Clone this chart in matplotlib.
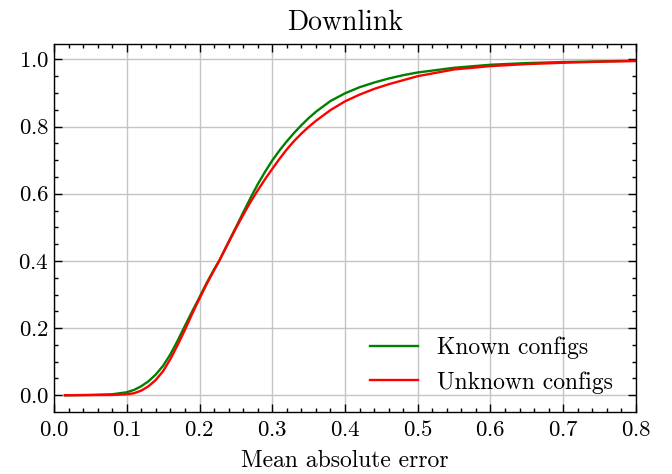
"""CDF of mean absolute error, downlink."""
import matplotlib
matplotlib.use('Agg')
import matplotlib.pyplot as plt
import numpy as np
from matplotlib.ticker import AutoMinorLocator, MultipleLocator

# CDF
known_x = [0.015, 0.05, 0.08, 0.10, 0.11, 0.12, 0.13, 0.14, 0.15, 0.16,
           0.17, 0.18, 0.19, 0.20, 0.21, 0.22, 0.227, 0.24, 0.25, 0.26,
           0.27, 0.28, 0.29, 0.30, 0.31, 0.32, 0.33, 0.34, 0.35, 0.36,
           0.38, 0.40, 0.42, 0.44, 0.46, 0.48, 0.50, 0.55, 0.60, 0.65,
           0.70, 0.75, 0.80]
known_y = [0.0, 0.001, 0.003, 0.009, 0.016, 0.027, 0.042, 0.062, 0.088, 0.122,
           0.163, 0.207, 0.250, 0.292, 0.335, 0.375, 0.400, 0.457, 0.500, 0.544,
           0.587, 0.628, 0.665, 0.699, 0.729, 0.756, 0.781, 0.804, 0.825, 0.844,
           0.876, 0.899, 0.917, 0.931, 0.943, 0.953, 0.961, 0.975, 0.984, 0.989,
           0.992, 0.994, 0.996]

unknown_x = [0.015, 0.05, 0.08, 0.10, 0.11, 0.12, 0.13, 0.14, 0.15, 0.16,
             0.17, 0.18, 0.19, 0.20, 0.21, 0.22, 0.227, 0.24, 0.25, 0.26,
             0.27, 0.28, 0.29, 0.30, 0.31, 0.32, 0.33, 0.34, 0.35, 0.36,
             0.38, 0.40, 0.42, 0.44, 0.46, 0.48, 0.50, 0.55, 0.60, 0.65,
             0.70, 0.75, 0.80]
unknown_y = [0.0, 0.0005, 0.001, 0.003, 0.006, 0.014, 0.027, 0.046, 0.072, 0.108,
             0.150, 0.195, 0.243, 0.288, 0.332, 0.372, 0.400, 0.455, 0.497, 0.537,
             0.575, 0.610, 0.643, 0.674, 0.704, 0.732, 0.757, 0.779, 0.799, 0.817,
             0.849, 0.875, 0.895, 0.912, 0.926, 0.938, 0.950, 0.970, 0.980, 0.986,
             0.990, 0.993, 0.995]

labels = ['Known configs', 'Unknown configs']
colors = ['green', 'red']

plt.rcParams['font.family'] = 'serif'
plt.rcParams['font.serif'] = ['cmr10']
plt.rcParams['mathtext.fontset'] = 'cm'
plt.rcParams['axes.unicode_minus'] = False
plt.rcParams['axes.formatter.use_mathtext'] = True

fig = plt.figure(figsize=(6.72, 4.74), dpi=100)
ax = fig.add_axes([0.0804, 0.1308, 0.866, 0.7764])

ax.plot(known_x, known_y, color=colors[0], lw=1.7, label=labels[0])
ax.plot(unknown_x, unknown_y, color=colors[1], lw=1.7, label=labels[1])

ax.set_xlim(0, 0.8)
ax.margins(y=0.05)
ax.xaxis.set_major_locator(MultipleLocator(0.1))
ax.yaxis.set_major_locator(MultipleLocator(0.2))
ax.xaxis.set_minor_locator(AutoMinorLocator(5))
ax.yaxis.set_minor_locator(AutoMinorLocator(4))
ax.tick_params(which='both', direction='in', top=True, right=True,
               labelsize=16.5, width=1.0)
ax.tick_params(which='major', length=6)
ax.tick_params(which='minor', length=3)
ax.tick_params(axis='x', pad=6)
for s in ax.spines.values():
    s.set_linewidth(1.0)
ax.grid(True, color='#c4c4c4', lw=1.0)
ax.set_axisbelow(True)

ax.set_title('Downlink', fontsize=20, pad=10)
ax.set_xlabel('Mean absolute error', fontsize=17, labelpad=7)
ax.legend(loc='lower right', frameon=False, fontsize=17,
          bbox_to_anchor=(0.996, -0.008))

fig.savefig('out.png', dpi=100)
